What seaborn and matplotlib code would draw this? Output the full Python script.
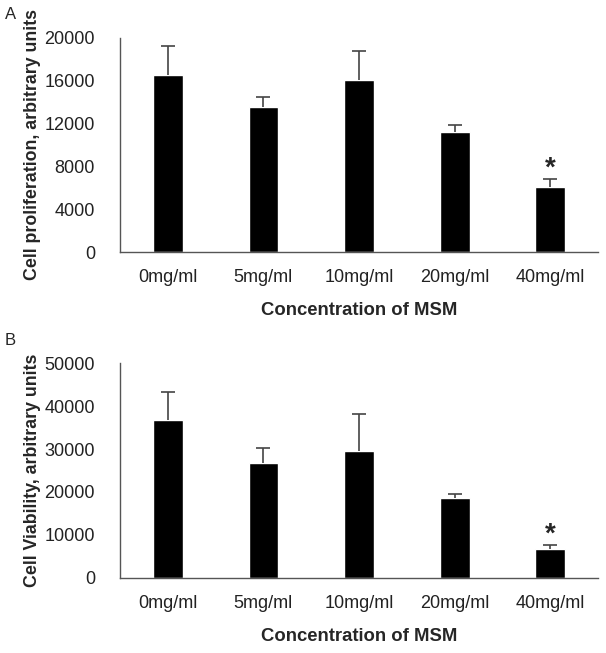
import matplotlib
matplotlib.use("Agg")
import matplotlib.pyplot as plt
import pandas as pd
import seaborn as sns

concentrations = ["0mg/ml", "5mg/ml", "10mg/ml", "20mg/ml", "40mg/ml"]
proliferation = [16550, 13550, 16050, 11250, 6050]
proliferation_err = [2700, 900, 2750, 650, 800]
viability = [36800, 26800, 29600, 18500, 6700]
viability_err = [6400, 3500, 8500, 1100, 1000]
significant = [False, False, False, False, True]

sns.set_theme(style="white")
plt.rcParams["font.family"] = ["Liberation Sans", "DejaVu Sans"]

fig = plt.figure(figsize=(6.06, 6.53), dpi=100)
ax_a = fig.add_axes([0.198, 0.614, 0.789, 0.328])
ax_b = fig.add_axes([0.198, 0.115, 0.789, 0.329])

panels = [
    (ax_a, proliferation, proliferation_err, "Cell proliferation, arbitrary units", 20000, 4000),
    (ax_b, viability, viability_err, "Cell Viability, arbitrary units", 50000, 10000),
]

for ax, vals, errs, ylabel, ymax, step in panels:
    df = pd.DataFrame({"conc": concentrations, "value": vals})
    sns.barplot(data=df, x="conc", y="value", color="black", width=0.31,
                saturation=1, ax=ax, errorbar=None)
    xs = list(range(len(concentrations)))
    # upward-only error bars
    _, caps, _ = ax.errorbar(xs, vals, yerr=[[0] * len(errs), errs], fmt="none",
                             ecolor="#444444", elinewidth=1.2, capsize=5, capthick=1.2)
    caps[0].set_visible(False)
    for x, v, e, sig in zip(xs, vals, errs, significant):
        if sig:
            ax.text(x, v + e + 0.014 * ymax, "*", ha="center", va="baseline",
                    fontsize=20, fontweight="bold")
    ax.set_xlim(-0.5, len(concentrations) - 0.5)
    ax.set_ylim(0, ymax)
    ticks = list(range(0, ymax + 1, step))
    ax.set_yticks(ticks)
    ax.set_yticklabels([str(t) for t in ticks])
    ax.tick_params(axis="both", length=0, labelsize=13, colors="#222222")
    ax.tick_params(axis="y", pad=18)
    ax.tick_params(axis="x", pad=12)
    for side in ["top", "right"]:
        ax.spines[side].set_visible(False)
    for side in ["left", "bottom"]:
        ax.spines[side].set_color("#555555")
        ax.spines[side].set_linewidth(1.0)
    ax.set_ylabel(ylabel, fontsize=12.8, fontweight="bold")
    ax.yaxis.set_label_coords(-0.166, 0.5)
    ax.set_xlabel("Concentration of MSM", fontsize=13.3, fontweight="bold", labelpad=12)
    ax.grid(False)

fig.text(0.008, 0.99, "A", fontsize=12, va="top")
fig.text(0.008, 0.49, "B", fontsize=12, va="top")

fig.savefig("out.png", dpi=100)
